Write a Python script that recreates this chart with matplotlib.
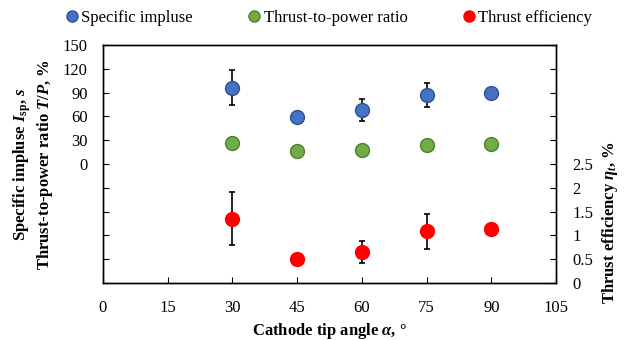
import numpy as np
import matplotlib
matplotlib.use('Agg')
import matplotlib.pyplot as plt
from matplotlib.ticker import FuncFormatter

plt.rcParams['font.family'] = 'Liberation Serif'
plt.rcParams['mathtext.fontset'] = 'custom'
plt.rcParams['mathtext.rm'] = 'Liberation Serif:weight=bold'
plt.rcParams['mathtext.it'] = 'Liberation Serif:style=italic:weight=bold'
plt.rcParams['mathtext.bf'] = 'Liberation Serif:weight=bold'

angle = [30, 45, 60, 75, 90]
isp = [96, 59, 68, 87, 89]
isp_err = [22, 0, 13.5, 15, 0]
tp_ratio = [26, 16, 17.5, 24, 25]
eff = [1.35, 0.51, 0.66, 1.09, 1.14]
eff_err = [0.56, 0, 0.23, 0.37, 0]

fig = plt.figure(figsize=(6.38, 3.4), dpi=100)
ax = fig.add_axes([0.1614, 0.1676, 0.8715 - 0.1614, 0.8676 - 0.1676])
ax2 = ax.twinx()

ms = 10
ax.errorbar(angle, isp, yerr=isp_err, fmt='none', ecolor='black', elinewidth=1.2, capsize=2.5, capthick=1.2, zorder=2)
ax.plot(angle, isp, 'o', ms=ms, mfc='#4472C4', mec='#2F528F', mew=1, zorder=3, label='Specific impluse')
ax.plot(angle, tp_ratio, 'o', ms=ms, mfc='#70AD47', mec='#507E32', mew=1, zorder=3, label='Thrust-to-power ratio')
ax2.errorbar(angle, eff, yerr=eff_err, fmt='none', ecolor='black', elinewidth=1.2, capsize=2.5, capthick=1.2, zorder=2)
ax2.plot(angle, eff, 'o', ms=ms, mfc='#FF0000', mec='#FF0000', mew=1, zorder=3, label='Thrust efficiency')

ax.set_xlim(0, 105)
ax.set_xticks(np.arange(0, 106, 15))
ax.set_ylim(-150, 150)
ax.set_yticks(np.arange(-150, 151, 30))
ax.yaxis.set_major_formatter(FuncFormatter(lambda v, p: '%g' % v if v >= 0 else ''))
ax2.set_ylim(0, 5)
ax2.set_yticks(np.arange(0, 5.01, 0.5))
ax2.yaxis.set_major_formatter(FuncFormatter(lambda v, p: '%g' % v if v <= 2.5 else ''))

ax.tick_params(axis='x', direction='in', length=4, pad=12, labelsize=12)
ax.tick_params(axis='y', direction='in', length=4, pad=11, labelsize=12)
ax2.tick_params(axis='y', direction='in', length=4, pad=12, labelsize=12)

for a in (ax, ax2):
    for s in a.spines.values():
        s.set_linewidth(1)

ax.set_xlabel(r'Cathode tip angle $\alpha$, °', fontsize=12, fontweight='bold', labelpad=4)
ax.set_ylabel('Specific impluse $I_{\\mathrm{sp}}$, $s$\nThrust-to-power ratio $T/P$, %',
              fontsize=12, fontweight='bold', linespacing=1.2)
ax.yaxis.set_label_coords(-0.105, 0.5)
ax2.set_ylabel(r'Thrust efficiency $\eta_t$, %', fontsize=12, fontweight='bold')
ax2.yaxis.set_label_coords(1.097, 0.255)

h1, l1 = ax.get_legend_handles_labels()
h2, l2 = ax2.get_legend_handles_labels()
fig.legend(h1 + h2, l1 + l2, loc='center', bbox_to_anchor=(0.514, 0.948), ncol=3, frameon=False,
           fontsize=12, handletextpad=0.05, columnspacing=3.2, markerscale=0.8, handlelength=1.0)

fig.savefig('out.png', dpi=100)
